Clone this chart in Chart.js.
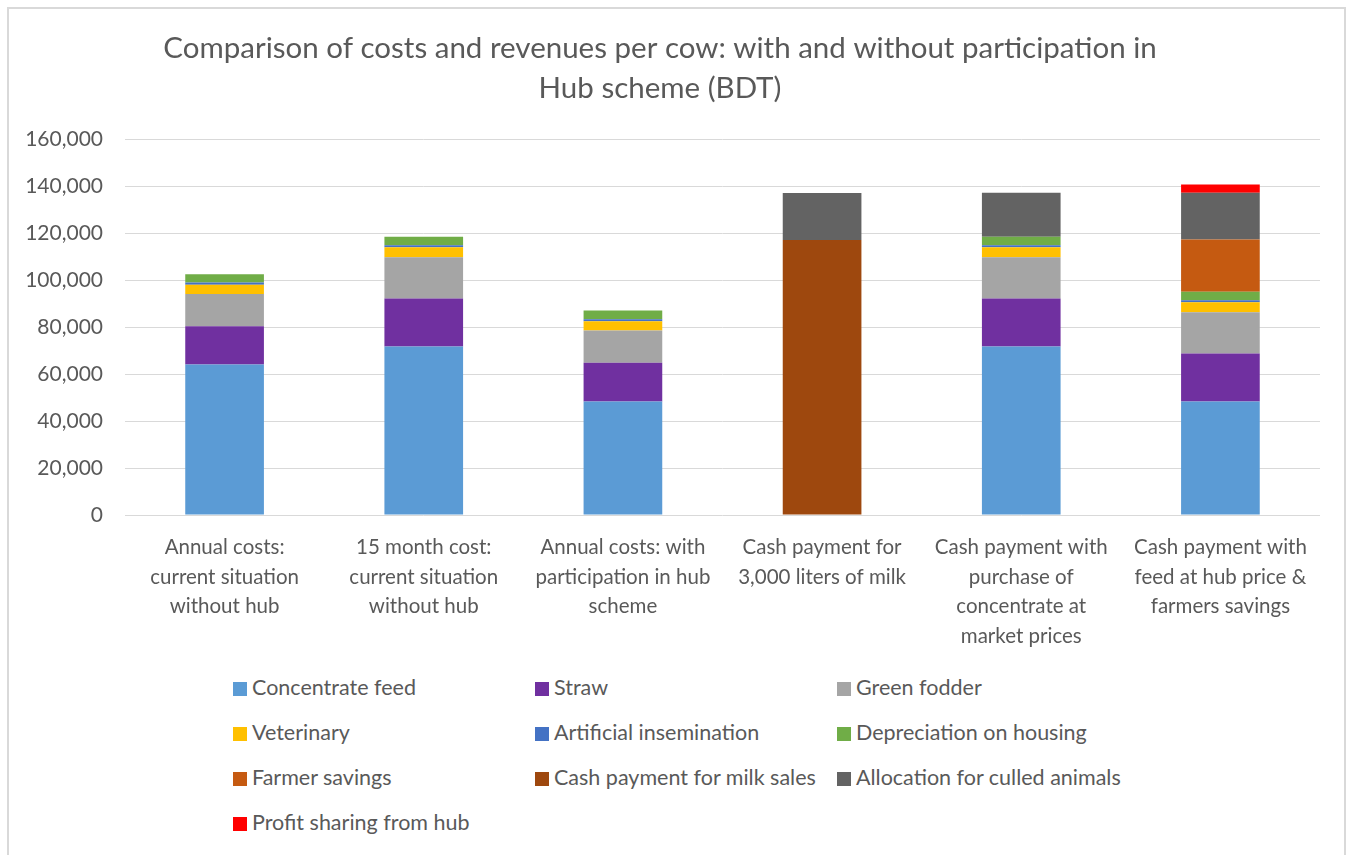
<!DOCTYPE html>
<html>
<head>
<meta charset="utf-8">
<script src="https://cdn.jsdelivr.net/npm/chart.js@4.4.1/dist/chart.umd.min.js"></script>
<style>
    body { margin: 0; background: #fff; }
    #wrap { position: relative; width: 1349px; height: 855px; overflow: hidden; }
    #frame { position: absolute; left: 7px; top: 7px; width: 1339px; height: 900px; border: 2px solid #d9d9d9; box-sizing: border-box; }
    #chartBox { position: absolute; left: 0; top: 0; width: 1349px; height: 660px; }
    #legend { position: absolute; left: 233px; top: 672px; width: 1100px; font-family: Lato, 'Liberation Sans', sans-serif; font-size: 21.5px; color: #595959; }
    .item { position: absolute; white-space: nowrap; height: 30px; line-height: 30px; }
    .item span.box { display: inline-block; width: 14px; height: 14px; margin-right: 5px; vertical-align: -1px; }
</style>
</head>
<body>
<div id="wrap">
    <div id="frame"></div>
    <div id="chartBox"><canvas id="hubChart" width="1349" height="660"></canvas></div>
    <div id="legend"></div>
</div>
<script>
// Categories (multi-line as in the original)
const categories = [
    ['Annual costs:', 'current situation', 'without hub'],
    ['15 month cost:', 'current situation', 'without hub'],
    ['Annual costs: with', 'participation in hub', 'scheme'],
    ['Cash payment for', '3,000 liters of milk'],
    ['Cash payment with', 'purchase of', 'concentrate at', 'market prices'],
    ['Cash payment with', 'feed at hub price &', 'farmers savings']
];

// Series values (BDT per cow)
const concentrateFeed = [64000, 71700, 48300, null, 71700, 48300];
const straw           = [16300, 20400, 16500, null, 20400, 20400];
const greenFodder     = [13700, 17600, 13700, null, 17600, 17600];
const veterinary      = [4000, 4200, 4000, null, 4200, 4200];
const insemination    = [900, 900, 800, null, 900, 900];
const depreciation    = [3600, 3600, 3700, null, 3600, 3600];
const farmerSavings   = [null, null, null, null, null, 22200];
const milkSales       = [null, null, null, 117000, null, null];
const culledAnimals   = [null, null, null, 20000, 18700, 19900];
const profitSharing   = [null, null, null, null, null, 3500];

const yTicks = [0, 20000, 40000, 60000, 80000, 100000, 120000, 140000, 160000];

const seriesNames = ['Concentrate feed', 'Straw', 'Green fodder', 'Veterinary', 'Artificial insemination',
    'Depreciation on housing', 'Farmer savings', 'Cash payment for milk sales', 'Allocation for culled animals',
    'Profit sharing from hub'];
const seriesData = [concentrateFeed, straw, greenFodder, veterinary, insemination,
    depreciation, farmerSavings, milkSales, culledAnimals, profitSharing];
const seriesColors = ['#5B9BD5', '#7030A0', '#A5A5A5', '#FFC000', '#4472C4',
    '#70AD47', '#C55A11', '#9E480E', '#636363', '#FF0000'];

const FONT = "Lato, 'Liberation Sans', sans-serif";
const TEXT = '#595959';

const datasets = seriesNames.map((name, i) => ({
    label: name,
    data: seriesData[i],
    backgroundColor: seriesColors[i],
    borderWidth: 0,
    stack: 'costs',
    barPercentage: 0.395,
    categoryPercentage: 1
}));

const ctx = document.getElementById('hubChart').getContext('2d');
const hubChart = new Chart(ctx, {
    type: 'bar',
    data: { labels: categories, datasets: datasets },
    options: {
        responsive: false,
        animation: false,
        layout: { padding: { top: 0, left: 0, right: 29, bottom: 0 } },
        plugins: {
            legend: { display: false },
            tooltip: { enabled: false },
            title: {
                display: true,
                text: ['Comparison of costs and revenues per cow: with and without participation in', 'Hub scheme (BDT)'],
                color: TEXT,
                font: { family: FONT, size: 29.5, weight: 'normal', lineHeight: '40px' },
                padding: { top: 28, bottom: 31 }
            }
        },
        scales: {
            x: {
                stacked: true,
                grid: { display: false, drawTicks: false },
                border: { display: false },
                ticks: {
                    color: TEXT,
                    padding: 18,
                    maxRotation: 0,
                    autoSkip: false,
                    font: { family: FONT, size: 20.5, lineHeight: 1.44 }
                },
                afterFit: (scale) => { scale.height = 145; }
            },
            y: {
                stacked: true,
                min: 0,
                max: 160000,
                afterBuildTicks: (scale) => { scale.ticks = yTicks.map(v => ({ value: v })); },
                grid: { color: '#d9d9d9', lineWidth: 1, drawTicks: false },
                border: { display: false },
                ticks: {
                    color: TEXT,
                    padding: 22,
                    font: { family: FONT, size: 21 },
                    callback: (value) => value.toLocaleString('en-US')
                },
                afterFit: (scale) => { scale.width = 125; }
            }
        }
    }
});

// Legend in a three-column grid like the original
const legendEl = document.getElementById('legend');
legendEl.innerHTML = seriesNames.map((name, i) => {
    const col = i % 3;
    const row = Math.floor(i / 3);
    return `<div class="item" style="left:${col * 302}px; top:${row * 45}px">` +
        `<span class="box" style="background:${seriesColors[i]}"></span>${name}</div>`;
}).join('');
</script>
</body>
</html>
